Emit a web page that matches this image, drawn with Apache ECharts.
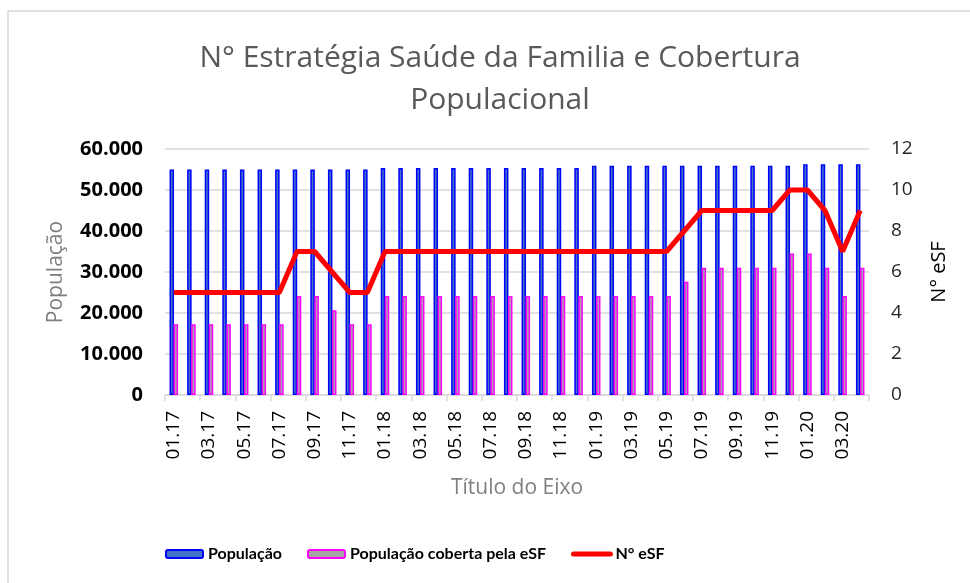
<!DOCTYPE html>
<html>
<head>
<meta charset="utf-8">
<script src="https://cdn.jsdelivr.net/npm/echarts@6/dist/echarts.min.js"></script>
<style>
  html, body { margin: 0; padding: 0; background: #fff; }
  #main { width: 970px; height: 583px; }
</style>
</head>
<body>
<div id="main"></div>
<script>
var meses = [
  "01.17", "02.17", "03.17", "04.17", "05.17", "06.17", "07.17", "08.17", "09.17", "10.17", "11.17", "12.17",
  "01.18", "02.18", "03.18", "04.18", "05.18", "06.18", "07.18", "08.18", "09.18", "10.18", "11.18", "12.18",
  "01.19", "02.19", "03.19", "04.19", "05.19", "06.19", "07.19", "08.19", "09.19", "10.19", "11.19", "12.19",
  "01.20", "02.20", "03.20", "04.20"
];
var populacao = [
  55000, 55000, 55000, 55000, 55000, 55000, 55000, 55000, 55000, 55000, 55000, 55000,
  55350, 55350, 55350, 55350, 55350, 55350, 55350, 55350, 55350, 55350, 55350, 55350,
  55900, 55900, 55900, 55900, 55900, 55900, 55900, 55900, 55900, 55900, 55900, 55900,
  56300, 56300, 56300, 56300
];
var populacaoCoberta = [
  17250, 17250, 17250, 17250, 17250, 17250, 17250, 24150, 24150, 20700, 17250, 17250,
  24150, 24150, 24150, 24150, 24150, 24150, 24150, 24150, 24150, 24150, 24150, 24150,
  24150, 24150, 24150, 24150, 24150, 27600, 31050, 31050, 31050, 31050, 31050, 34500,
  34500, 31050, 24150, 31050
];
var numeroEsf = [
  5, 5, 5, 5, 5, 5, 5, 7, 7, 6, 5, 5,
  7, 7, 7, 7, 7, 7, 7, 7, 7, 7, 7, 7,
  7, 7, 7, 7, 7, 8, 9, 9, 9, 9, 9, 10,
  10, 9, 7, 9
];

var fonte = "'Open Sans', Lato, sans-serif";
var fonteLegenda = "Lato, 'Open Sans', sans-serif";
var myChart = echarts.init(document.getElementById("main"));

var option = {
  animation: false,
  textStyle: { fontFamily: fonte },
  graphic: [
    {
      type: "rect",
      shape: { x: 8, y: 11, width: 990, height: 620 },
      style: { fill: "none", stroke: "#d9d9d9", lineWidth: 1.5 },
      silent: true
    }
  ],
  title: {
    text: "N° Estratégia Saúde da Familia e Cobertura\nPopulacional",
    left: 495,
    textAlign: "center",
    top: 32,
    textStyle: {
      fontFamily: fonte,
      fontSize: 30,
      fontWeight: "normal",
      color: "#595959",
      lineHeight: 42
    }
  },
  legend: {
    left: 160,
    top: 541,
    itemWidth: 37,
    itemHeight: 8,
    itemGap: 25,
    textStyle: { fontFamily: fonteLegenda, fontSize: 16, fontWeight: "bold", color: "#000" },
    data: [
      "População",
      "População coberta pela eSF",
      { name: "N° eSF", itemStyle: { opacity: 0 }, lineStyle: { width: 5, color: "#ff0000", cap: "round" } }
    ]
  },
  grid: { left: 165, right: 101, top: 149, bottom: 188 },
  xAxis: {
    type: "category",
    data: meses,
    name: "Título do Eixo",
    nameLocation: "middle",
    nameGap: 83,
    nameTextStyle: { fontFamily: fonte, fontSize: 21, color: "#7f7f7f" },
    axisLine: { lineStyle: { color: "#d9d9d9", width: 1.5 } },
    axisTick: { show: true, length: 6, lineStyle: { color: "#d9d9d9", width: 1.5 } },
    axisLabel: { rotate: 90, interval: 1, margin: 16, fontSize: 19, color: "#000" }
  },
  yAxis: [
    {
      type: "value",
      min: 0,
      max: 60000,
      interval: 10000,
      name: "População",
      nameLocation: "middle",
      nameGap: 98,
      nameRotate: 90,
      nameTextStyle: { fontFamily: fonte, fontSize: 21, color: "#7f7f7f" },
      axisLine: { show: false },
      axisTick: { show: false },
      splitLine: { lineStyle: { color: "#d9d9d9", width: 1.5 } },
      axisLabel: {
        margin: 22,
        fontSize: 20,
        fontWeight: "bold",
        color: "#000",
        formatter: function (v) {
          return v === 0 ? "0" : String(v).replace(/\B(?=(\d{3})+(?!\d))/g, ".");
        }
      }
    },
    {
      type: "value",
      min: 0,
      max: 12,
      interval: 2,
      name: "N° eSF",
      nameLocation: "middle",
      nameGap: 60,
      nameRotate: 90,
      nameTextStyle: { fontFamily: fonte, fontSize: 20, color: "#000" },
      axisLine: { show: false },
      axisTick: { show: false },
      splitLine: { show: false },
      axisLabel: { margin: 22, fontSize: 19, color: "#262626" }
    }
  ],
  series: [
    {
      name: "População",
      type: "bar",
      data: populacao,
      barWidth: 4.5,
      barGap: "-10%",
      itemStyle: { color: "#4472c4", borderColor: "#0000ff", borderWidth: 1.5 }
    },
    {
      name: "População coberta pela eSF",
      type: "bar",
      data: populacaoCoberta,
      barWidth: 4.5,
      itemStyle: { color: "#a5a5a5", borderColor: "#ff00ff", borderWidth: 1.5 }
    },
    {
      name: "N° eSF",
      type: "line",
      yAxisIndex: 1,
      data: numeroEsf,
      symbol: "none",
      lineStyle: { color: "#ff0000", width: 5 },
      itemStyle: { color: "#ff0000" }
    }
  ]
};

option && myChart.setOption(option);
</script>
</body>
</html>
